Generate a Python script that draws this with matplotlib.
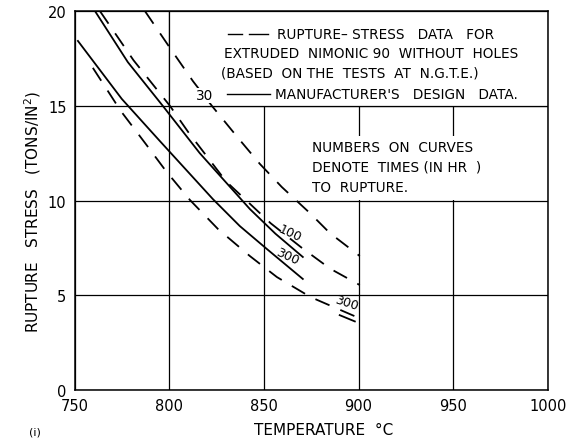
import matplotlib

matplotlib.use("Agg")
import matplotlib.pyplot as plt
from matplotlib.patches import Rectangle

# Manufacturer's design data (solid), 100 hr and 300 hr
SOLID_100_T = [760.6, 778, 796.5, 816, 842.5, 856, 870.5]
SOLID_100_S = [20.0, 17.3, 14.99, 12.5, 9.55, 8.25, 7.02]
SOLID_300_T = [751.6, 774.8, 794.9, 822.9, 837.2, 851.5, 870.5]
SOLID_300_S = [18.42, 15.36, 13.14, 10.08, 8.65, 7.44, 5.86]

# Rupture-stress data from N.G.T.E. tests (dashed)
DASH_30_T = [787, 801.3, 812.4, 822.7, 837.2, 847.8, 859.4, 874.2, 884.8, 900.6]
DASH_30_S = [20.0, 17.9, 16.3, 14.96, 13.19, 11.93, 10.71, 9.34, 8.28, 7.07]
DASH_100_T = [763.2, 781, 800.2, 810, 830, 853.5, 870, 885, 900.6]
DASH_100_S = [20.0, 17.4, 15.0, 13.6, 11.0, 8.8, 7.5, 6.4, 5.54]
DASH_300_T = [759.5, 774.3, 787.5, 798.1, 810.8, 825.6, 842.5, 856.8, 874.7, 899]
DASH_300_S = [17.0, 14.72, 12.98, 11.56, 10.03, 8.5, 7.07, 5.96, 4.9, 3.85]

X_TICKS = [750, 800, 850, 900, 950, 1000]
Y_TICKS = [0, 5, 10, 15, 20]

FONT = 9.8

fig = plt.figure(figsize=(5.76, 4.39), dpi=100)
ax = fig.add_axes([0.130, 0.1093, 0.821, 0.8634])

ax.set_xlim(750, 1000)
ax.set_ylim(0, 20)
ax.set_xticks(X_TICKS)
ax.set_yticks(Y_TICKS)
ax.tick_params(length=0, labelsize=10.5, pad=6)
ax.set_axisbelow(True)
ax.grid(True, color="black", linewidth=0.9)
for sp in ax.spines.values():
    sp.set_linewidth(1.1)

# white panels holding the notes
ax.add_patch(Rectangle((800, 15), 200, 5, facecolor="white", edgecolor="black",
                       linewidth=0.9, zorder=1))
ax.add_patch(Rectangle((851, 10.05), 148, 3.35, facecolor="white", edgecolor="none",
                       zorder=1))

lw = 1.3
ax.plot(SOLID_100_T, SOLID_100_S, color="black", linewidth=lw, zorder=3)
ax.plot(SOLID_300_T, SOLID_300_S, color="black", linewidth=lw, zorder=3)
for t, s in [(DASH_30_T, DASH_30_S), (DASH_100_T, DASH_100_S), (DASH_300_T, DASH_300_S)]:
    (ln,) = ax.plot(t, s, color="black", linewidth=lw, zorder=3)
    ln.set_dashes((8.5, 6.5))

# curve labels
ax.text(863.6, 8.3, "100", fontsize=9, rotation=-25, ha="center", va="center", zorder=4)
ax.text(862.6, 7.1, "300", fontsize=9, rotation=-25, ha="center", va="center", zorder=4)
ax.text(893.8, 4.65, "300", fontsize=9, rotation=-18, ha="center", va="center", zorder=4)
ax.plot([890, 898], [3.95, 3.62], color="black", linewidth=lw, zorder=3)

# legend notes
ax.plot([831, 838.5], [18.79, 18.79], color="black", linewidth=1.0, zorder=3)
ax.plot([842, 852], [18.79, 18.79], color="black", linewidth=1.0, zorder=3)
ax.text(857, 18.79, "RUPTURE\u2013 STRESS   DATA   FOR", fontsize=FONT, va="center", zorder=4)
ax.text(829, 17.78, "EXTRUDED  NIMONIC 90  WITHOUT  HOLES", fontsize=FONT, va="center",
        zorder=4)
ax.text(827.5, 16.78, "(BASED  ON THE  TESTS  AT  N.G.T.E.)", fontsize=FONT, va="center",
        zorder=4)
ax.text(818.5, 15.55, "30", fontsize=FONT, va="center", ha="center", zorder=4,
        bbox=dict(facecolor="white", edgecolor="none", pad=0.3))
ax.plot([830.5, 853], [15.62, 15.62], color="black", linewidth=1.0, zorder=3)
ax.text(856, 15.62, "MANUFACTURER'S   DESIGN   DATA.", fontsize=FONT, va="center", zorder=4)

ax.text(875.5, 12.82, "NUMBERS  ON  CURVES", fontsize=FONT, va="center", zorder=4)
ax.text(875.5, 11.77, "DENOTE  TIMES (IN HR  )", fontsize=FONT, va="center", zorder=4)
ax.text(875.5, 10.71, "TO  RUPTURE.", fontsize=FONT, va="center", zorder=4)

ax.set_xlabel("TEMPERATURE  \u00b0C", fontsize=11, va="center")
ax.xaxis.set_label_coords(0.526, -0.105)
ax.set_ylabel("RUPTURE   STRESS   (TONS/IN$^2$)", fontsize=11, va="center")
ax.yaxis.set_label_coords(-0.09, 0.472)

fig.text(0.05, 0.003, "(i)", fontsize=8, va="bottom")

fig.savefig("out.png", dpi=100)
